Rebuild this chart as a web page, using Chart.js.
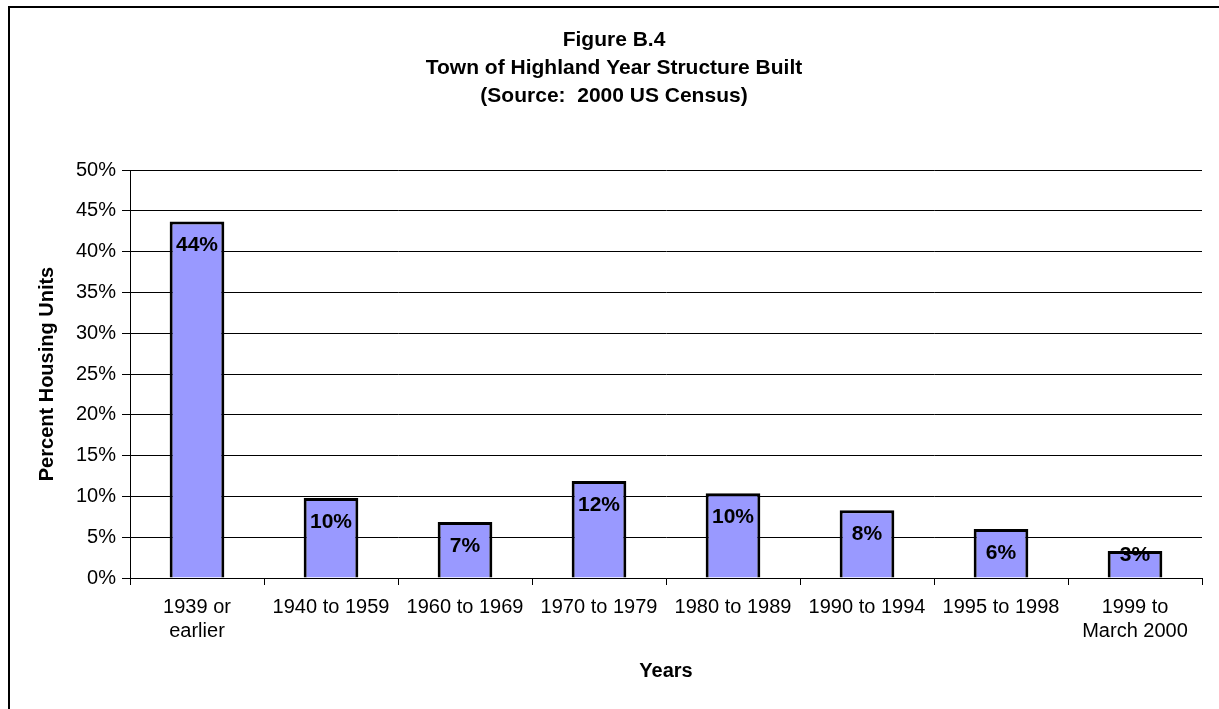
<!DOCTYPE html>
<html>
<head>
<meta charset="utf-8">
<script src="https://cdn.jsdelivr.net/npm/chart.js@4.4.1/dist/chart.umd.min.js"></script>
<style>
  html, body {margin: 0; padding: 0; background: #fff;}
  #wrap {width: 1219px; height: 709px; position: relative;}
</style>
</head>
<body>
<div id="wrap"><canvas id="chart"></canvas></div>
<script>
const categories = [['1939 or', 'earlier'], '1940 to 1959', '1960 to 1969', '1970 to 1979', '1980 to 1989', '1990 to 1994', '1995 to 1998', ['1999 to', 'March 2000']]
const percentUnits = [43.7, 9.8, 6.85, 11.9, 10.4, 8.3, 6.0, 3.3]
const titleLines = ['Figure B.4', 'Town of Highland Year Structure Built', '(Source:  2000 US Census)']

const FONT = "'Liberation Sans', Arial, sans-serif"

new Chart(document.getElementById('chart'), {
    type: 'bar',
    data: {
        labels: categories,
        datasets: [{
            data: percentUnits,
            backgroundColor: '#9999FF',
            borderColor: '#000',
            borderWidth: 3,
            categoryPercentage: 0.8,
            barPercentage: 0.51,
        }],
    },
    options: {
        responsive: true,
        maintainAspectRatio: false,
        animation: false,
        layout: {padding: {left: 9, right: 17, top: 170, bottom: 0}},
        plugins: {
            legend: {display: false},
            tooltip: {enabled: false},
            title: {display: false},
        },
        scales: {
            x: {
                grid: {display: true, drawOnChartArea: false, offset: true, color: '#000', tickLength: 7},
                border: {display: true, color: '#000', width: 1},
                ticks: {color: '#000', font: {family: FONT, size: 20, lineHeight: 1.18}, padding: 11, maxRotation: 0, autoSkip: false},
                title: {display: true, text: 'Years', color: '#000', font: {family: FONT, size: 20, weight: 'bold'}, padding: {top: 0, bottom: 26}},
                afterFit: s => { s.height = 131 },
            },
            y: {
                min: 0,
                max: 50,
                grid: {color: '#000', lineWidth: 1, tickLength: 8},
                border: {display: true, color: '#000', width: 1},
                ticks: {stepSize: 5, color: '#000', font: {family: FONT, size: 20}, padding: 6, callback: v => v + '%'},
                title: {display: true, text: 'Percent Housing Units', color: '#000', font: {family: FONT, size: 20, weight: 'bold'}, padding: {top: 26, bottom: 0}},
                afterFit: s => { s.width = 121 },
            },
        },
    },
    plugins: [{
        id: 'frame-title-labels',
        afterDraw(chart) {
            const {ctx} = chart
            ctx.save()
            ctx.strokeStyle = '#000'
            ctx.lineWidth = 2
            ctx.beginPath()
            ctx.moveTo(9, 709)
            ctx.lineTo(9, 7)
            ctx.lineTo(1219, 7)
            ctx.stroke()

            ctx.fillStyle = '#000'
            ctx.textAlign = 'center'
            ctx.textBaseline = 'middle'
            ctx.font = `bold 21px ${FONT}`
            titleLines.forEach((line, i) => ctx.fillText(line, 614, 40 + i * 28))

            ctx.font = `bold 21px ${FONT}`
            chart.getDatasetMeta(0).data.forEach((bar, i) => {
                const h = bar.base - bar.y
                const off = Math.min(24, Math.max(4, h - 23))
                ctx.fillText(Math.round(percentUnits[i]) + '%', bar.x, bar.y + off)
            })
            ctx.restore()
        },
    }],
})
</script>
</body>
</html>
